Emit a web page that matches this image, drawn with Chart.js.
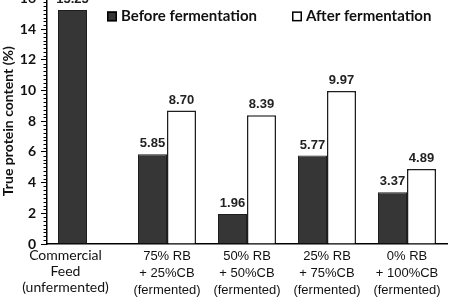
<!DOCTYPE html>
<html>
<head>
<meta charset="utf-8">
<script src="https://cdn.jsdelivr.net/npm/chart.js@4.4.1/dist/chart.umd.min.js"></script>
<style>
  html, body { margin: 0; padding: 0; background: #fff; }
  #wrap { position: relative; width: 449px; height: 308px; overflow: hidden; }
  #chart { position: absolute; left: 0; top: -15px; }
</style>
</head>
<body>
<div id="wrap"><canvas id="chart" width="449" height="323"></canvas></div>
<script>
// categories (multi-line axis labels)
const categories = [
  ['Commercial', 'Feed', '(unfermented)'],
  ['75% RB', '+ 25%CB', '(fermented)'],
  ['50% RB', '+ 50%CB', '(fermented)'],
  ['25% RB', '+ 75%CB', '(fermented)'],
  ['0% RB', '+ 100%CB', '(fermented)']
];
const seriesNames = ['Before fermentation', 'After fermentation'];
const beforeValues = [15.25, 5.85, 1.96, 5.77, 3.37];
const afterValues = [null, 8.70, 8.39, 9.97, 4.89];
const yMin = 0;
const yMax = 16;
const yMajorStep = 2;
const yMinorStep = 0.25;
const yTitle = 'True protein content (%)';

// first label sits left of its tick in the original, pad with trailing spaces
const xLabels = categories.map((c, i) => i === 0 ? c.map(s => s + ' '.repeat(12)) : c);

const darkFill = '#363636';

const valueLabels = {
  id: 'valueLabels',
  afterDatasetsDraw(chart) {
    const ctx = chart.ctx;
    ctx.save();
    ctx.font = 'bold 13px "Liberation Sans", Arial, sans-serif';
    ctx.fillStyle = '#222';
    ctx.textAlign = 'center';
    ctx.textBaseline = 'bottom';
    chart.data.datasets.forEach((ds, di) => {
      const meta = chart.getDatasetMeta(di);
      meta.data.forEach((bar, i) => {
        const v = ds.data[i];
        if (v == null) return;
        ctx.fillText(v.toFixed(2), bar.x, bar.y - 4);
      });
    });
    ctx.restore();
  }
};

// short minor ticks between the labelled ones
const minorTicks = {
  id: 'minorTicks',
  afterDraw(chart) {
    const y = chart.scales.y;
    const ctx = chart.ctx;
    const x0 = chart.chartArea.left;
    ctx.save();
    ctx.strokeStyle = '#000';
    ctx.lineWidth = 1;
    ctx.beginPath();
    const n = Math.round((yMax - yMin) / yMinorStep);
    for (let i = 0; i <= n; i++) {
      const v = yMin + i * yMinorStep;
      if (v % yMajorStep === 0) continue;
      const py = Math.round(y.getPixelForValue(v)) + 0.5;
      ctx.moveTo(x0 - 3.5, py);
      ctx.lineTo(x0, py);
    }
    ctx.stroke();
    ctx.restore();
  }
};

// legend drawn inside the plot area, top right
const innerLegend = {
  id: 'innerLegend',
  afterDraw(chart) {
    const ctx = chart.ctx;
    const a = chart.chartArea;
    const y = a.top + 18;
    const items = [
      { x: 107, fill: darkFill, stroke: '#000' },
      { x: 292, fill: '#fff', stroke: '#000' }
    ];
    ctx.save();
    ctx.font = 'bold 15px Lato, "Open Sans", sans-serif';
    ctx.textBaseline = 'middle';
    ctx.textAlign = 'left';
    items.forEach((it, i) => {
      ctx.fillStyle = it.fill;
      ctx.fillRect(it.x, y - 5, 10, 10);
      ctx.strokeStyle = it.stroke;
      ctx.lineWidth = 1.5;
      ctx.strokeRect(it.x + 0.75, y - 4.25, 8.5, 8.5);
      ctx.fillStyle = '#111';
      ctx.fillText(seriesNames[i], it.x + 14, y);
    });
    ctx.restore();
  }
};

new Chart(document.getElementById('chart'), {
  type: 'bar',
  data: {
    labels: xLabels,
    datasets: [
      {
        label: seriesNames[0],
        data: beforeValues,
        backgroundColor: darkFill,
        borderColor: '#1e1e1e',
        borderWidth: 1
      },
      {
        label: seriesNames[1],
        data: afterValues,
        backgroundColor: '#ffffff',
        borderColor: '#1e1e1e',
        borderWidth: 1.5
      }
    ]
  },
  options: {
    responsive: false,
    animation: false,
    devicePixelRatio: 1,
    layout: { padding: { top: 4, right: 2, left: 0, bottom: 0 } },
    datasets: {
      bar: { categoryPercentage: 0.725, barPercentage: 1 }
    },
    scales: {
      x: {
        grid: { display: false, drawTicks: false },
        border: { display: true, color: '#000', width: 1.5 },
        ticks: {
          autoSkip: false,
          maxRotation: 0,
          minRotation: 0,
          padding: 4,
          color: '#111',
          font: (c) => c.index === 0
            ? { family: 'Lato, "Open Sans", sans-serif', size: 14, lineHeight: 1.12 }
            : { family: '"Liberation Sans", Arial, sans-serif', size: 13, lineHeight: 1.3 }
        },
        afterFit: (s) => { s.height = 64; }
      },
      y: {
        min: yMin,
        max: yMax,
        grid: { drawOnChartArea: false, drawTicks: true, tickLength: 6, color: '#000', tickWidth: 1 },
        border: { display: true, color: '#000', width: 1.5 },
        ticks: {
          stepSize: yMajorStep,
          padding: 5,
          color: '#111',
          font: { family: 'Lato, "Open Sans", sans-serif', size: 14, weight: 'bold' }
        },
        title: {
          display: true,
          text: yTitle,
          color: '#111',
          font: { family: 'Lato, "Open Sans", sans-serif', size: 14, weight: 'bold' },
          padding: { top: 0, bottom: 0 }
        },
        afterFit: (s) => { s.width = 47; }
      }
    },
    plugins: {
      legend: { display: false },
      tooltip: { enabled: false }
    }
  },
  plugins: [valueLabels, minorTicks, innerLegend]
});
</script>
</body>
</html>
